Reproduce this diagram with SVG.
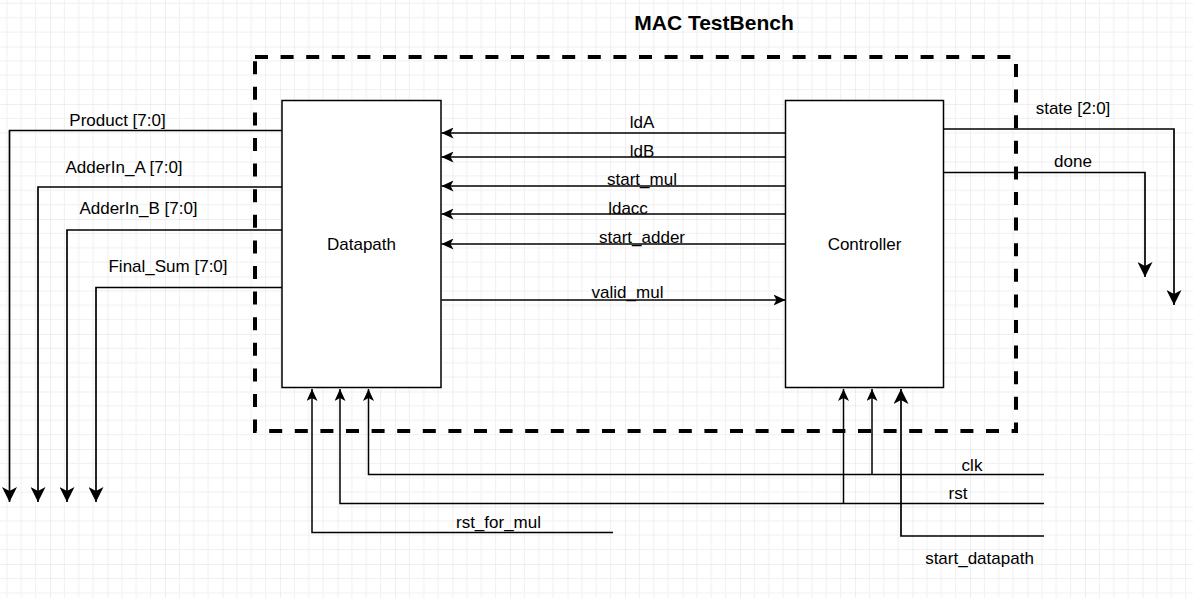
<svg xmlns="http://www.w3.org/2000/svg" width="1193" height="598" viewBox="0 0 1193 598">
<style>
  .lbl{font-family:"Liberation Sans",Arial,sans-serif;font-size:17px;fill:#000;text-anchor:middle}
  .title{font-family:"Liberation Sans",Arial,sans-serif;font-size:21px;font-weight:bold;fill:#000;text-anchor:middle}
  .box{fill:#fff;stroke:#000;stroke-width:1.5}
  .wire{fill:none;stroke:#000;stroke-width:1.5}
  .arr{fill:none;stroke:#000;stroke-width:1.5;marker-end:url(#ah)}
  .arrL{fill:none;stroke:#000;stroke-width:1.7;marker-end:url(#ahL)}
</style>
<defs>
  <pattern id="grid" patternUnits="userSpaceOnUse" x="-7.5" y="-11" width="57.5" height="57.5">
    <path d="M14.375,0V57.5M28.75,0V57.5M43.125,0V57.5M0,14.375H57.5M0,28.75H57.5M0,43.125H57.5" stroke="#f0f0f0" stroke-width="1"/>
    <path d="M0,0V57.5M0,0H57.5" stroke="#e0e0e0" stroke-width="1"/>
  </pattern>
  <marker id="ah" markerUnits="userSpaceOnUse" viewBox="0 0 12 11" refX="12" refY="5.5" markerWidth="12" markerHeight="11" orient="auto">
    <path d="M0,0L12,5.5L0,11L3,5.5Z" fill="#000"/>
  </marker>
  <marker id="ahL" markerUnits="userSpaceOnUse" viewBox="0 0 15 15" refX="15" refY="7.5" markerWidth="15" markerHeight="15" orient="auto">
    <path d="M0,0L15,7.5L0,15L4,7.5Z" fill="#000"/>
  </marker>
</defs>
<rect width="1193" height="598" fill="#fff"/>
<rect width="1193" height="598" fill="url(#grid)"/>

<g id="testbench">
  <rect x="255" y="57" width="761" height="374" fill="none" stroke="#000" stroke-width="4" stroke-dasharray="13 12.6"/>
  <text class="title" x="714" y="30">MAC TestBench</text>
</g>

<g id="connectors">
  <!-- controller to datapath -->
  <path class="arr" d="M785.5,133H441.5"/>
  <path class="arr" d="M785.5,157H441.5"/>
  <path class="arr" d="M785.5,186H441.5"/>
  <path class="arr" d="M785.5,214H441.5"/>
  <path class="arr" d="M785.5,244H441.5"/>
  <path class="arr" d="M441.5,300H785.5"/>
  <!-- datapath outputs -->
  <path class="arrL" d="M282,130.5H9.5V502"/>
  <path class="arrL" d="M282,187H38V502"/>
  <path class="arrL" d="M282,230H67V502"/>
  <path class="arrL" d="M282,287.5H96V502"/>
  <!-- controller outputs -->
  <path class="arrL" d="M943.5,129H1174V305"/>
  <path class="arrL" d="M943.5,172.5H1145V277"/>
  <!-- inputs -->
  <path class="arr" d="M1044,474.5H368.5V389"/>
  <path class="arr" d="M872,474.5V389"/>
  <path class="arr" d="M1044,503.5H340V389"/>
  <path class="arr" d="M843.5,503.5V389"/>
  <path class="arr" d="M613,532.5H312V389"/>
  <path class="arrL" d="M1044,536H901V389"/>
</g>

<g id="labels">
  <text class="lbl" x="642" y="128">ldA</text>
  <text class="lbl" x="642" y="157">ldB</text>
  <text class="lbl" x="642" y="185">start_mul</text>
  <text class="lbl" x="628" y="214">ldacc</text>
  <text class="lbl" x="642" y="243">start_adder</text>
  <text class="lbl" x="627.5" y="297.5">valid_mul</text>
  <text class="lbl" x="117.5" y="126">Product [7:0]</text>
  <text class="lbl" x="124" y="172.5">AdderIn_A [7:0]</text>
  <text class="lbl" x="138.5" y="214">AdderIn_B [7:0]</text>
  <text class="lbl" x="168" y="272">Final_Sum [7:0]</text>
  <text class="lbl" x="1073" y="114">state [2:0]</text>
  <text class="lbl" x="1073" y="167">done</text>
  <text class="lbl" x="498.5" y="528">rst_for_mul</text>
  <text class="lbl" x="972" y="471">clk</text>
  <text class="lbl" x="958" y="499">rst</text>
  <text class="lbl" x="979.5" y="564">start_datapath</text>
</g>

<g id="datapath">
  <rect class="box" x="282" y="100.5" width="159" height="287"/>
  <text class="lbl" x="361.5" y="250">Datapath</text>
</g>

<g id="controller">
  <rect class="box" x="785.5" y="100.5" width="158" height="287"/>
  <text class="lbl" x="864.5" y="250">Controller</text>
</g>
</svg>
